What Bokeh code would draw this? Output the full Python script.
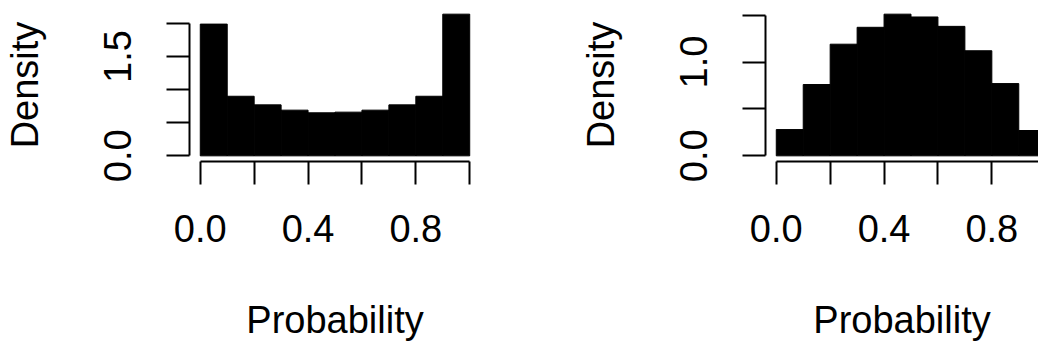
from bokeh.plotting import figure
from bokeh.layouts import row
from bokeh.models import FixedTicker, Range1d, PrintfTickFormatter
from bokeh.embed import file_html
from bokeh.resources import INLINE

# Histogram bin edges (ten bins of width 0.1 on [0, 1])
bin_edges = [0.0, 0.1, 0.2, 0.3, 0.4, 0.5, 0.6, 0.7, 0.8, 0.9, 1.0]

# Density per bin for the two distributions
density_u_shaped = [1.99, 0.90, 0.77, 0.69, 0.65, 0.66, 0.69, 0.77, 0.90, 2.14]
density_hump = [0.28, 0.76, 1.19, 1.37, 1.51, 1.48, 1.38, 1.12, 0.77, 0.27]

# Axis ticks: labelled ones and the unlabelled ones in between
x_labelled = [0.0, 0.4, 0.8]
x_unlabelled = [0.2, 0.6, 1.0]
y_labelled_left = [0.0, 1.5]
y_unlabelled_left = [0.5, 1.0, 2.0]
y_labelled_right = [0.0, 1.0]
y_unlabelled_right = [0.5, 1.5]

x_title = "Probability"
y_title = "Density"

FONT = "Liberation Sans"
SIZE = "38px"


def histogram_panel(density, y_lab, y_unlab, width, border_left, border_right,
                    x_end, y_top_tick):
    ymax = max(density)
    p = figure(width=width, height=346, output_backend="svg",
               toolbar_location=None,
               x_range=Range1d(-0.04, x_end),
               y_range=Range1d(-0.04 * ymax, 1.04 * ymax),
               min_border_left=border_left, min_border_right=border_right,
               min_border_top=8, min_border_bottom=185)
    p.outline_line_color = None
    p.grid.visible = False
    p.background_fill_color = "white"
    p.border_fill_color = "white"

    p.quad(left=bin_edges[:-1], right=bin_edges[1:], bottom=0, top=density,
           fill_color="black", line_color="black", line_width=1)

    xa = p.xaxis[0]
    xa.ticker = FixedTicker(ticks=x_labelled, minor_ticks=x_unlabelled)
    xa.bounds = (0.0, 1.0)
    xa.axis_label = x_title

    ya = p.yaxis[0]
    ya.ticker = FixedTicker(ticks=y_lab, minor_ticks=y_unlab)
    ya.bounds = (0.0, y_top_tick)
    ya.major_label_orientation = "vertical"
    ya.axis_label = y_title

    for ax in (xa, ya):
        ax.formatter = PrintfTickFormatter(format="%.1f")
        ax.axis_line_color = "black"
        ax.axis_line_width = 2
        ax.major_tick_line_color = "black"
        ax.major_tick_line_width = 2
        ax.minor_tick_line_color = "black"
        ax.minor_tick_line_width = 2
        ax.major_tick_in = 0
        ax.major_tick_out = 23
        ax.minor_tick_in = 0
        ax.minor_tick_out = 23
        ax.major_label_text_font = FONT
        ax.major_label_text_font_size = SIZE
        ax.major_label_text_color = "black"
        ax.axis_label_text_font = FONT
        ax.axis_label_text_font_size = SIZE
        ax.axis_label_text_font_style = "normal"
        ax.axis_label_text_color = "black"

    xa.major_label_standoff = 30
    xa.axis_label_standoff = 54
    ya.major_label_standoff = 35
    ya.axis_label_standoff = 56
    return p


left = histogram_panel(density_u_shaped, y_labelled_left, y_unlabelled_left,
                       519, 189, 39, 1.04, 2.0)
right = histogram_panel(density_hump, y_labelled_right, y_unlabelled_right,
                        519, 246, 0, -0.04 + 1.08 * 273 / 291, 1.5)

layout = row(left, right)
open("out.html", "w").write(file_html(layout, INLINE))
